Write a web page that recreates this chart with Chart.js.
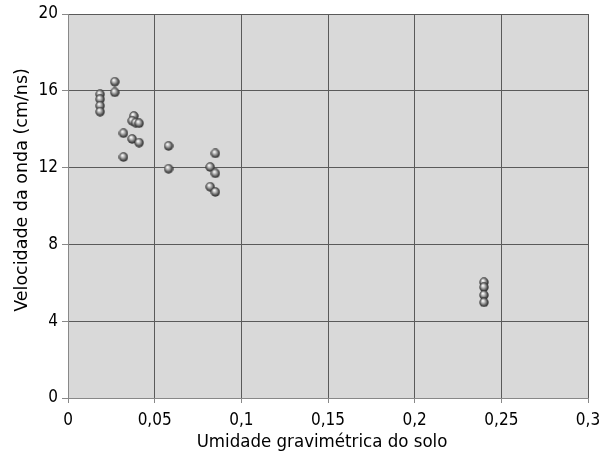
<!DOCTYPE html>
<html><head><meta charset="utf-8">
<script src="https://cdn.jsdelivr.net/npm/chart.js@4/dist/chart.umd.min.js"></script>
<style>html,body{margin:0;padding:0;background:#fff}#w{width:599px;height:455px}</style>
</head><body><div id="w"><canvas id="c"></canvas></div>
<script>
const xValues = [0.0185,0.0185,0.0185,0.0185,0.027,0.027,0.038,0.037,0.039,0.041,0.032,0.037,0.041,0.032,0.058,0.058,0.085,0.082,0.085,0.082,0.085,0.24,0.24,0.24,0.24];
const yValues = [15.82,15.56,15.22,14.91,16.47,15.92,14.69,14.44,14.34,14.31,13.79,13.49,13.30,12.55,13.13,11.94,12.74,12.03,11.70,11.00,10.73,6.03,5.77,5.36,4.98];
const xTicks = [0,0.05,0.1,0.15,0.2,0.25,0.3];
const yTicks = [0,4,8,12,16,20];
const xTitle = 'Umidade gravimétrica do solo';
const yTitle = 'Velocidade da onda (cm/ns)';

const pts = xValues.map((x,i)=>({x:x,y:yValues[i]}));
const ball = document.createElement('canvas');
ball.width=10; ball.height=10;
(function(){const g=ball.getContext('2d');const gr=g.createRadialGradient(3.8,3.2,0.3,5,5,5);
gr.addColorStop(0,'#ffffff');gr.addColorStop(0.3,'#c0c0c0');gr.addColorStop(0.75,'#4a4a4a');gr.addColorStop(1,'#2a2a2a');
g.fillStyle=gr;g.beginPath();g.arc(5,5,4.7,0,Math.PI*2);g.fill();})();

const COND='"DejaVu Sans Condensed","DejaVu Sans",sans-serif';
const bg={id:'bg',beforeDraw(ch){const a=ch.chartArea,c=ch.ctx;c.save();c.fillStyle='#d9d9d9';c.fillRect(a.left,a.top,a.right-a.left,a.bottom-a.top);c.restore();}};
const titles={id:'titles',afterDraw(ch){const c=ch.ctx;c.save();c.fillStyle='#000';c.textAlign='center';c.textBaseline='middle';
 c.font='18.5px '+COND;c.fillText(xTitle,322,442);
 c.translate(22,190);c.rotate(-Math.PI/2);
 c.font='17.5px "DejaVu Sans",sans-serif';c.fillText(yTitle,0,0);c.restore();}};
const fmt=v=>String(Math.round(v*100)/100).replace('.',',');
Chart.defaults.font.family=COND;
Chart.defaults.color='#000';
new Chart(document.getElementById('c'),{
type:'scatter',
data:{datasets:[{data:pts,pointStyle:ball,pointRadius:5,pointHoverRadius:5}]},
options:{responsive:true,maintainAspectRatio:false,animation:false,
layout:{padding:{top:14,right:11,left:0,bottom:0}},
plugins:{legend:{display:false},tooltip:{enabled:false}},
scales:{
x:{type:'linear',min:0,max:0.3,
 afterBuildTicks(s){s.ticks=xTicks.map(v=>({value:v}));},
 afterFit(s){s.height=57;s.paddingLeft=0;s.paddingRight=0;},
 ticks:{callback:fmt,font:{size:17},padding:7,maxRotation:0},
 grid:{color:'#5a5a5a',lineWidth:1,tickLength:5,tickColor:'#888'},
 border:{color:'#888'},
 title:{display:false,text:xTitle}},
y:{min:0,max:20,
 afterBuildTicks(s){s.ticks=yTicks.map(v=>({value:v}));},
 afterFit(s){s.width=68;s.paddingTop=0;s.paddingBottom=0;},
 ticks:{callback:fmt,font:{size:17},padding:4},
 grid:{color:'#5a5a5a',lineWidth:1,tickLength:6,tickColor:'#888'},
 border:{color:'#888'},
 title:{display:false,text:yTitle}}
}},
plugins:[bg,titles]});
</script></body></html>
